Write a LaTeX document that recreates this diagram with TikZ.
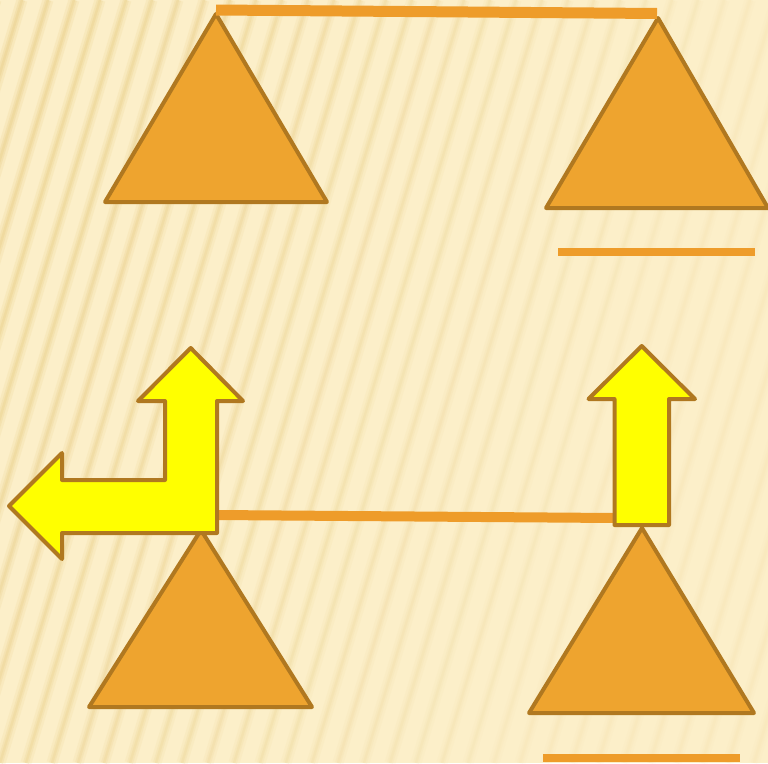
\documentclass[tikz,border=0pt]{standalone}
\usetikzlibrary{calc}
\definecolor{bgc}{HTML}{FCEFC9}
\definecolor{stripec}{HTML}{E9CE86}
\definecolor{trifill}{HTML}{EEA42F}
\definecolor{edgec}{HTML}{B07820}
\definecolor{barc}{HTML}{EE9C2A}
\definecolor{arrfill}{HTML}{FFFF00}
\tikzset{
  tri/.style={fill=trifill, draw=edgec, line width=4pt, line join=round},
  bar/.style={draw=barc, line width=#1},
  bar/.default=10pt,
  arr/.style={fill=arrfill, draw=edgec, line width=4pt, line join=round},
}
\begin{document}
\begin{tikzpicture}[x=1pt,y=-1pt]
\useasboundingbox (0,0) rectangle (768,763);
\fill[bgc] (0,0) rectangle (768,763);
\begin{scope}
\clip (0,0) rectangle (768,763);
\foreach \i in {-10,...,30}{
  \pgfmathsetmacro{\op}{max(0.10,0.6-0.017*(\i+10))}
  \draw[stripec, line width=11pt, opacity=\op*0.35] (\i*26,763) -- (\i*26+230,0);
  \draw[stripec, line width=6pt, opacity=\op*0.5] (\i*26,763) -- (\i*26+230,0);
  \draw[stripec, line width=2.5pt, opacity=\op*0.6] (\i*26,763) -- (\i*26+230,0);
}
\end{scope}
% triangles
\coordinate (t1a) at (216,14); \coordinate (t1l) at (105,202); \coordinate (t1r) at (327,202);
\coordinate (t2a) at (658,18); \coordinate (t2l) at (546,208); \coordinate (t2r) at (768,208);
\coordinate (t3a) at (201,530); \coordinate (t3l) at (89,707); \coordinate (t3r) at (312,707);
\coordinate (t4a) at (642,528); \coordinate (t4l) at (529,713); \coordinate (t4r) at (754,713);
\draw[tri] (t1a) -- (t1l) -- (t1r) -- cycle;
\draw[tri] (t2a) -- (t2l) -- (t2r) -- cycle;
\draw[tri] (t3a) -- (t3l) -- (t3r) -- cycle;
\draw[tri] (t4a) -- (t4l) -- (t4r) -- cycle;
% bars
\coordinate (b1l) at (216,10); \coordinate (b1r) at (657,13.5);
\draw[bar=11pt] (b1l) -- (b1r);
\coordinate (b2l) at (558,252); \coordinate (b2r) at (755,252);
\draw[bar=8pt] (b2l) -- (b2r);
\coordinate (b3l) at (216,515); \coordinate (b3r) at (615,518);
\draw[bar=10pt] (b3l) -- (b3r);
\coordinate (b4l) at (543,757.5); \coordinate (b4r) at (740,757.5);
\draw[bar=8pt] (b4l) -- (b4r);
% L-shaped arrow
\draw[arr] (190.7,348) -- (243,401) -- (217,401) -- (217,533) -- (62,533) -- (62,559)
  -- (9,506) -- (62,453) -- (62,480) -- (165,480) -- (165,401) -- (138,401) -- cycle;
% up arrow
\draw[arr] (641.7,346) -- (695,399) -- (669,399) -- (669,525) -- (614.5,525)
  -- (614.5,399) -- (588.5,399) -- cycle;
\end{tikzpicture}
\end{document}
